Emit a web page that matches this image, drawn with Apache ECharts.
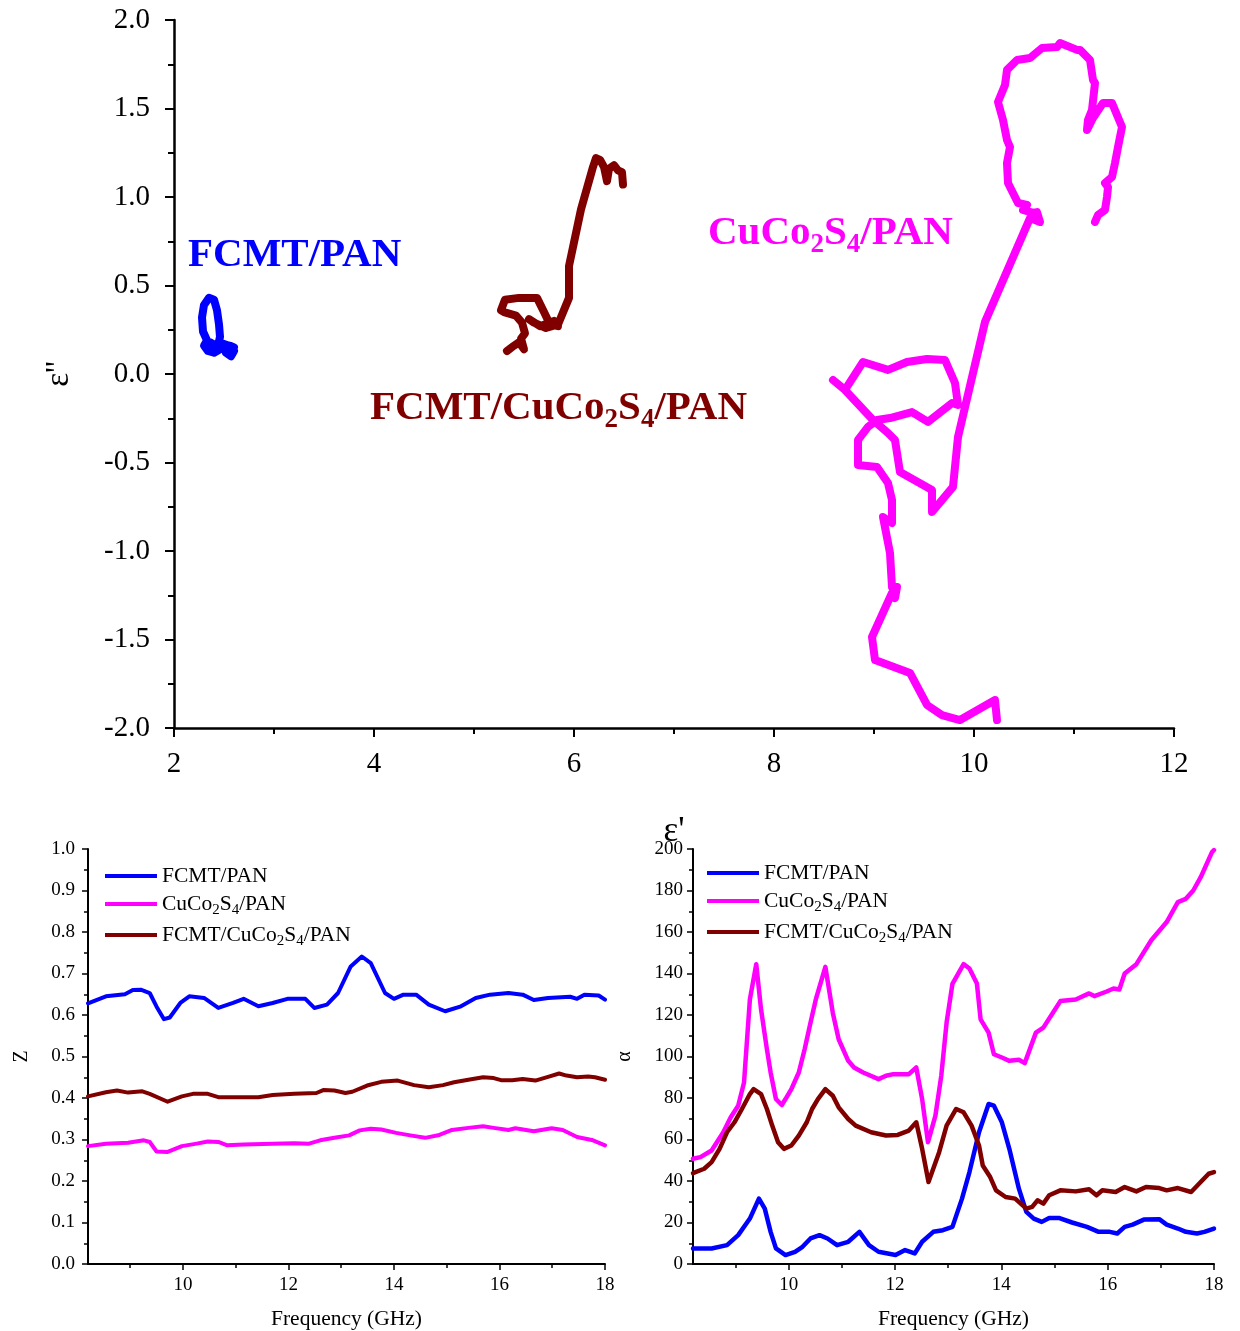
<!DOCTYPE html>
<html><head><meta charset="utf-8">
<script src="https://cdn.jsdelivr.net/npm/echarts@6/dist/echarts.min.js"></script>
<style>html,body{margin:0;padding:0;background:#fff}#c{width:1240px;height:1331px}</style>
</head><body><div id="c"></div>
<script>
// ---- Cole-Cole (epsilon' , epsilon'') ----
const colePAN = [[2.60,0.13],[2.57,0.10],[2.52,0.12],[2.55,0.16],[2.50,0.17],[2.46,0.14],[2.40,0.12],[2.34,0.13],[2.30,0.16],[2.33,0.19],[2.29,0.24],[2.28,0.32],[2.30,0.39],[2.35,0.43],[2.40,0.42],[2.43,0.36],[2.45,0.28],[2.46,0.21],[2.44,0.16],[2.38,0.14],[2.36,0.18],[2.42,0.16],[2.50,0.14],[2.56,0.16],[2.60,0.15]];
const coleFCMTCuCo = [[5.33,0.13],[5.40,0.16],[5.45,0.18],[5.50,0.14],[5.47,0.20],[5.51,0.23],[5.48,0.29],[5.42,0.33],[5.30,0.35],[5.27,0.36],[5.31,0.42],[5.45,0.43],[5.63,0.43],[5.70,0.35],[5.76,0.28],[5.84,0.27],[5.80,0.30],[5.66,0.27],[5.55,0.31],[5.60,0.29],[5.72,0.26],[5.84,0.28],[5.95,0.43],[5.95,0.61],[6.07,0.93],[6.19,1.17],[6.22,1.22],[6.26,1.21],[6.30,1.17],[6.33,1.09],[6.35,1.16],[6.40,1.18],[6.44,1.15],[6.48,1.14],[6.49,1.07]];
const coleCuCo = [[10.23,-1.955],[10.21,-1.842],[9.86,-1.955],[9.68,-1.927],[9.53,-1.870],[9.36,-1.689],[9.01,-1.616],[8.98,-1.486],[9.18,-1.237],[9.21,-1.266],[9.23,-1.203],[9.18,-1.203],[9.16,-1.011],[9.09,-0.808],[9.18,-0.842],[9.18,-0.712],[9.14,-0.616],[9.03,-0.525],[8.84,-0.514],[8.84,-0.373],[8.94,-0.299],[9.03,-0.260],[9.16,-0.249],[9.38,-0.215],[9.54,-0.271],[9.78,-0.164],[9.84,-0.175],[9.81,-0.051],[9.71,0.079],[9.53,0.085],[9.33,0.068],[9.14,0.023],[8.89,0.068],[8.71,-0.090],[8.59,-0.034],[8.71,-0.090],[8.99,-0.260],[9.14,-0.333],[9.21,-0.373],[9.26,-0.554],[9.58,-0.655],[9.58,-0.780],[9.79,-0.638],[9.84,-0.356],[10.11,0.294],[10.56,0.881],[10.66,0.859],[10.63,0.915],[10.59,0.910],[10.49,0.927],[10.53,0.955],[10.44,0.966],[10.39,1.023],[10.34,1.079],[10.33,1.192],[10.36,1.282],[10.33,1.322],[10.29,1.435],[10.24,1.537],[10.31,1.633],[10.33,1.718],[10.43,1.774],[10.56,1.785],[10.68,1.842],[10.83,1.847],[10.86,1.870],[11.03,1.831],[11.06,1.831],[11.16,1.774],[11.19,1.661],[11.21,1.644],[11.18,1.492],[11.14,1.435],[11.13,1.379],[11.19,1.446],[11.29,1.531],[11.38,1.531],[11.48,1.395],[11.44,1.282],[11.41,1.192],[11.38,1.113],[11.31,1.079],[11.34,1.056],[11.33,1.000],[11.31,0.927],[11.24,0.898],[11.21,0.859]];

// ---- Z vs frequency (GHz) ----
const zFCMT = [[8.2,0.628],[8.54,0.645],[8.9,0.65],[9.05,0.66],[9.2,0.661],[9.37,0.653],[9.5,0.62],[9.64,0.59],[9.75,0.594],[9.95,0.629],[10.12,0.645],[10.4,0.641],[10.67,0.617],[10.95,0.629],[11.15,0.639],[11.43,0.621],[11.7,0.629],[11.98,0.639],[12.32,0.639],[12.49,0.617],[12.73,0.625],[12.94,0.653],[13.18,0.717],[13.39,0.741],[13.56,0.725],[13.83,0.653],[14.0,0.639],[14.18,0.649],[14.42,0.649],[14.66,0.625],[14.97,0.609],[15.27,0.621],[15.55,0.641],[15.82,0.649],[16.17,0.653],[16.44,0.649],[16.65,0.636],[16.92,0.641],[17.34,0.644],[17.47,0.639],[17.61,0.649],[17.88,0.647],[18.0,0.637]];
const zCuCo = [[8.2,0.284],[8.54,0.29],[8.96,0.292],[9.26,0.298],[9.37,0.294],[9.5,0.271],[9.71,0.27],[9.98,0.284],[10.26,0.29],[10.47,0.295],[10.67,0.294],[10.84,0.286],[11.15,0.288],[11.7,0.29],[12.11,0.291],[12.39,0.29],[12.6,0.298],[12.87,0.304],[13.15,0.31],[13.35,0.322],[13.56,0.326],[13.76,0.324],[14.04,0.316],[14.31,0.31],[14.59,0.304],[14.86,0.311],[15.1,0.323],[15.41,0.328],[15.69,0.332],[15.89,0.328],[16.17,0.323],[16.3,0.327],[16.65,0.32],[16.99,0.327],[17.2,0.323],[17.47,0.306],[17.75,0.299],[18.0,0.286]];
const zFCMTCuCo = [[8.2,0.404],[8.54,0.414],[8.75,0.418],[8.96,0.413],[9.23,0.416],[9.37,0.41],[9.71,0.391],[9.98,0.404],[10.19,0.41],[10.47,0.41],[10.67,0.402],[11.02,0.402],[11.43,0.402],[11.7,0.407],[12.11,0.41],[12.53,0.412],[12.66,0.419],[12.87,0.418],[13.08,0.412],[13.21,0.415],[13.49,0.43],[13.76,0.439],[14.07,0.442],[14.38,0.431],[14.66,0.426],[14.93,0.431],[15.14,0.438],[15.41,0.444],[15.69,0.45],[15.89,0.448],[16.03,0.443],[16.24,0.443],[16.44,0.446],[16.68,0.442],[16.92,0.451],[17.13,0.459],[17.27,0.454],[17.47,0.45],[17.68,0.452],[17.81,0.45],[18.0,0.444]];

// ---- alpha vs frequency (GHz) ----
const aFCMT = [[8.2,7.5],[8.55,7.5],[8.84,9.1],[9.05,13.9],[9.27,21.9],[9.44,31.5],[9.55,26.7],[9.66,15.5],[9.76,7.5],[9.94,4.3],[10.12,5.9],[10.26,8.3],[10.41,12.3],[10.58,13.9],[10.73,12.3],[10.91,9.1],[11.12,10.7],[11.33,15.5],[11.51,9.1],[11.69,5.9],[12.01,4.3],[12.19,6.7],[12.37,5.1],[12.51,10.7],[12.72,15.5],[12.9,16.3],[13.08,17.9],[13.26,31.5],[13.4,44.3],[13.58,63.5],[13.76,77.1],[13.86,76.3],[14.01,68.3],[14.15,55.5],[14.33,36.3],[14.47,25.1],[14.61,21.9],[14.76,20.3],[14.9,22.2],[15.08,22.2],[15.33,20],[15.61,17.9],[15.83,15.5],[16.04,15.5],[16.18,14.7],[16.32,17.9],[16.47,19],[16.68,21.4],[16.97,21.6],[17.11,19],[17.32,17.1],[17.47,15.5],[17.68,14.7],[17.82,15.5],[18.0,17.1]];
const aCuCo = [[8.2,50.7],[8.34,51.5],[8.55,54.7],[8.77,63.5],[8.91,70.7],[9.05,76.3],[9.16,87.5],[9.27,127.5],[9.39,144.5],[9.48,122.7],[9.59,103.5],[9.66,92.3],[9.76,79.5],[9.87,76.6],[9.94,79.5],[10.05,84.3],[10.19,92.3],[10.3,103.5],[10.41,116.3],[10.51,127.5],[10.69,143.2],[10.83,121],[10.94,108.3],[11.12,97.9],[11.23,94.7],[11.4,92.3],[11.69,89.1],[11.83,90.7],[11.97,91.5],[12.12,91.5],[12.26,91.5],[12.4,94.7],[12.51,79.5],[12.62,58.7],[12.76,71.5],[12.87,90.7],[12.97,116.3],[13.08,135],[13.29,144.5],[13.4,142.4],[13.54,135.2],[13.61,117.9],[13.76,111.5],[13.86,101.1],[14.01,99.5],[14.15,97.9],[14.33,98.4],[14.44,96.8],[14.65,111.5],[14.79,113.9],[14.97,121.1],[15.11,126.7],[15.4,127.5],[15.65,130.4],[15.75,129.1],[15.97,131.2],[16.11,132.8],[16.22,132.3],[16.32,140],[16.54,144.5],[16.82,156],[17.11,164.8],[17.32,174.4],[17.47,176],[17.61,180],[17.75,186.4],[17.96,198.4],[18.0,199.5]];
const aFCMTCuCo = [[8.2,43.8],[8.41,45.9],[8.55,49.1],[8.7,55.5],[8.84,63.5],[8.98,68.3],[9.12,74.7],[9.27,81.9],[9.34,84.3],[9.48,81.9],[9.59,74.7],[9.69,66.7],[9.8,58.7],[9.91,55.5],[10.05,57.1],[10.19,61.9],[10.34,68.3],[10.44,74.7],[10.55,79.5],[10.69,84.3],[10.83,81.1],[10.94,75.5],[11.12,69.9],[11.26,66.7],[11.55,63.5],[11.83,61.9],[12.05,62.2],[12.26,64.3],[12.4,68.3],[12.51,55.5],[12.63,39.5],[12.83,53.9],[12.97,66.7],[13.15,74.7],[13.29,73.1],[13.44,66.7],[13.58,57.1],[13.65,47.5],[13.79,41.9],[13.9,35.5],[14.08,32.3],[14.26,31.5],[14.47,26.7],[14.58,27.5],[14.68,30.7],[14.79,29.1],[14.9,33.1],[15.11,35.5],[15.4,35],[15.65,36],[15.79,33.1],[15.9,35.5],[16.15,34.7],[16.32,37.1],[16.54,35],[16.72,37.1],[16.97,36.6],[17.11,35.5],[17.32,36.6],[17.57,34.7],[17.75,39.5],[17.9,43.5],[18.0,44.3]];

const names = ['FCMT/PAN', 'CuCo2S4/PAN', 'FCMT/CuCo2S4/PAN'];
const freqTicks = [10, 12, 14, 16, 18];
const freqMinorTicks = [9, 11, 13, 15, 17];

const BLUE = '#0000FF', MAG = '#FF00FF', BROWN = '#800000';
const SERIF = '"Liberation Serif","Times New Roman",serif';

function sub(name) {
  if (name === 'CuCo2S4/PAN') return '{a|CuCo}{s|2}{a|S}{s|4}{a|/PAN}';
  if (name === 'FCMT/CuCo2S4/PAN') return '{a|FCMT/CuCo}{s|2}{a|S}{s|4}{a|/PAN}';
  return '{a|' + name + '}';
}

const chart = echarts.init(document.getElementById('c'), null, {renderer: 'canvas'});

function bottomX(gi) {
  return [{
    gridIndex: gi, type: 'value', min: 8.2, max: 18, position: 'bottom',
    name: 'Frequency (GHz)', nameLocation: 'middle', nameGap: 44,
    nameTextStyle: {fontFamily: SERIF, fontSize: 21.5, color: '#000'},
    axisLine: {onZero: false, lineStyle: {color: '#000', width: 2}},
    axisTick: {customValues: freqTicks, length: 6, inside: false, lineStyle: {color: '#000', width: 1.5}},
    axisLabel: {customValues: freqTicks, fontFamily: SERIF, fontSize: 19, color: '#000', margin: 12},
    splitLine: {show: false}
  }, {
    gridIndex: gi, type: 'value', min: 8.2, max: 18, position: 'bottom',
    axisLine: {show: false, onZero: false},
    axisTick: {customValues: freqMinorTicks, length: 4, lineStyle: {color: '#000', width: 1.5}},
    axisLabel: {show: false},
    splitLine: {show: false}
  }];
}

function lineSeries(name, data, color, xi, yi, w) {
  return {
    name: name, type: 'line', data: data, xAxisIndex: xi, yAxisIndex: yi,
    symbol: 'none', smooth: false, animation: false,
    lineStyle: {color: color, width: w, cap: 'round', join: 'round'},
    itemStyle: {color: color}
  };
}

const legendRich = {
  a: {fontFamily: SERIF, fontSize: 21.5, color: '#000'},
  s: {fontFamily: SERIF, fontSize: 15, color: '#000', padding: [13, 0, 0, 0]}
};

const bigRich = function (color) {
  return {
    a: {fontFamily: SERIF, fontSize: 41, fontWeight: 'bold', fill: color},
    s: {fontFamily: SERIF, fontSize: 27, fontWeight: 'bold', fill: color, padding: [24, 0, 0, 0]}
  };
};

function makeLegend(left, top) {
  return {
    data: names, orient: 'vertical', left: left, top: top, padding: 0,
    itemWidth: 52, itemHeight: 4, itemGap: 6, icon: 'rect',
    formatter: sub, textStyle: {rich: legendRich}, selectedMode: false
  };
}

const option = {
  backgroundColor: '#fff',
  animation: false,
  grid: [
    {left: 174, right: 66, top: 20, bottom: 603},
    {left: 88, right: 635, top: 849, bottom: 66},
    {left: 693, right: 26, top: 849, bottom: 66}
  ],
  legend: [makeLegend(105, 865), makeLegend(707, 862)],
  xAxis: [
    {
      gridIndex: 0, type: 'value', min: 2, max: 12, interval: 2,
      name: "ε'", nameLocation: 'middle', nameGap: 86,
      nameTextStyle: {fontFamily: SERIF, fontSize: 35, color: '#000'},
      axisLine: {onZero: false, lineStyle: {color: '#000', width: 2.5}},
      axisTick: {length: 9, lineStyle: {color: '#000', width: 2}},
      minorTick: {show: true, splitNumber: 2, length: 6, lineStyle: {color: '#000', width: 2}},
      axisLabel: {fontFamily: SERIF, fontSize: 29, color: '#000', margin: 22},
      splitLine: {show: false}
    },
    ...bottomX(1),
    ...bottomX(2)
  ],
  yAxis: [
    {
      gridIndex: 0, type: 'value', min: -2, max: 2, interval: 0.5,
      name: "ε''", nameLocation: 'middle', nameGap: 98,
      nameTextStyle: {fontFamily: SERIF, fontSize: 33, color: '#000'},
      axisLine: {onZero: false, lineStyle: {color: '#000', width: 2.5}},
      axisTick: {length: 9, lineStyle: {color: '#000', width: 2}},
      minorTick: {show: true, splitNumber: 2, length: 6, lineStyle: {color: '#000', width: 2}},
      axisLabel: {fontFamily: SERIF, fontSize: 29, color: '#000', margin: 24, formatter: v => v.toFixed(1)},
      splitLine: {show: false}
    },
    {
      gridIndex: 1, type: 'value', min: 0, max: 1, interval: 0.1,
      name: 'Z', nameLocation: 'middle', nameGap: 56,
      nameTextStyle: {fontFamily: SERIF, fontSize: 20, color: '#000'},
      axisLine: {onZero: false, lineStyle: {color: '#000', width: 2}},
      axisTick: {length: 6, lineStyle: {color: '#000', width: 1.5}},
      minorTick: {show: true, splitNumber: 2, length: 4, lineStyle: {color: '#000', width: 1.5}},
      axisLabel: {fontFamily: SERIF, fontSize: 19, color: '#000', margin: 13, formatter: v => v.toFixed(1)},
      splitLine: {show: false}
    },
    {
      gridIndex: 2, type: 'value', min: 0, max: 200, interval: 20,
      name: 'α', nameLocation: 'middle', nameGap: 58,
      nameTextStyle: {fontFamily: SERIF, fontSize: 20, color: '#000'},
      axisLine: {onZero: false, lineStyle: {color: '#000', width: 2}},
      axisTick: {length: 6, lineStyle: {color: '#000', width: 1.5}},
      minorTick: {show: true, splitNumber: 2, length: 4, lineStyle: {color: '#000', width: 1.5}},
      axisLabel: {fontFamily: SERIF, fontSize: 19, color: '#000', margin: 10},
      splitLine: {show: false}
    }
  ],
  series: [
    lineSeries('cole FCMT/PAN', colePAN, BLUE, 0, 0, 8),
    lineSeries('cole FCMT/CuCo2S4/PAN', coleFCMTCuCo, BROWN, 0, 0, 8),
    lineSeries('cole CuCo2S4/PAN', coleCuCo, MAG, 0, 0, 8),
    lineSeries('FCMT/PAN', zFCMT, BLUE, 1, 1, 4),
    lineSeries('CuCo2S4/PAN', zCuCo, MAG, 1, 1, 4),
    lineSeries('FCMT/CuCo2S4/PAN', zFCMTCuCo, BROWN, 1, 1, 4),
    lineSeries('FCMT/PAN', aFCMT, BLUE, 3, 2, 4.5),
    lineSeries('CuCo2S4/PAN', aCuCo, MAG, 3, 2, 4.5),
    lineSeries('FCMT/CuCo2S4/PAN', aFCMTCuCo, BROWN, 3, 2, 4.5)
  ],
  graphic: [
    {type: 'text', left: 188, top: 235, style: {text: '{a|FCMT/PAN}', rich: bigRich(BLUE)}},
    {type: 'text', left: 708, top: 213, style: {text: '{a|CuCo}{s|2}{a|S}{s|4}{a|/PAN}', rich: bigRich(MAG)}},
    {type: 'text', left: 370, top: 388, style: {text: '{a|FCMT/CuCo}{s|2}{a|S}{s|4}{a|/PAN}', rich: bigRich(BROWN)}}
  ]
};
chart.setOption(option);
</script>
</body></html>
